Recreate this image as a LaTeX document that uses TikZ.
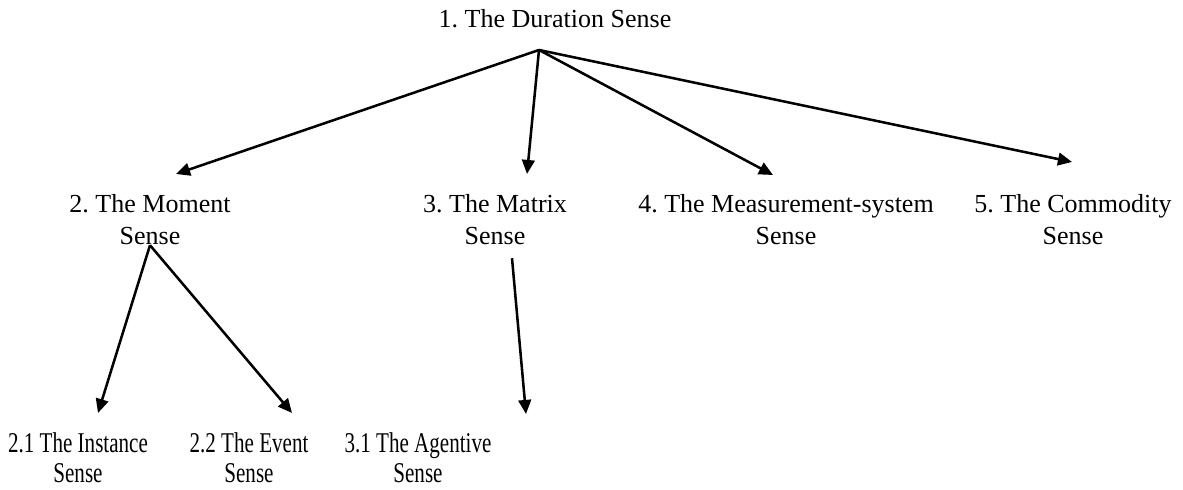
\documentclass[tikz,border=0pt]{standalone}
\usepackage{fontspec}
\setmainfont{Liberation Serif}
\usepackage{graphicx}
\usetikzlibrary{arrows.meta}
\newcommand{\narrow}[1]{\scalebox{0.81}[1.1]{#1}}
\frenchspacing

\begin{document}
\begin{tikzpicture}[x=0.025cm, y=-0.025cm,
    sense/.style={inner sep=0pt, anchor=north, align=center,
                  font=\fontsize{18.5pt}{23pt}\selectfont},
    subsense/.style={sense, font=\fontsize{18.5pt}{21.5pt}\selectfont},
    a/.style={-{Triangle[length=10pt, width=9pt]}, line width=1.8pt}
  ]
  \useasboundingbox (0,0) rectangle (1183,490);

  % top
  \node[sense] (n1) at (555,9) {1. The Duration Sense};
  \coordinate (d1) at ([shift={(-16,22)}]n1.south);

  % second row
  \node[sense] (n2) at (150,194) {2. The Moment\\ Sense};
  \node[sense] (n3) at (495,194) {3. The Matrix\\ Sense};
  \node[sense] (n4) at (786,194) {4. The Measurement-system\\ Sense};
  \node[sense] (n5) at (1073,194) {5. The Commodity\\ Sense};
  \draw[a] (d1) -- ([shift={(26,-20)}]n2.north);
  \draw[a] (d1) -- ([shift={(32,-20)}]n3.north);
  \draw[a] (d1) -- ([shift={(-13,-19)}]n4.north);
  \draw[a] (d1) -- ([shift={(-1,-32)}]n5.north);

  % third row
  \node[subsense] (n6) at (78,432) {\narrow{2.1 The Instance}\\ \narrow{Sense}};
  \node[subsense] (n7) at (249,432) {\narrow{2.2 The Event}\\ \narrow{Sense}};
  \node[subsense] (n8) at (418,432) {\narrow{3.1 The Agentive}\\ \narrow{Sense}};
  \draw[a] (n2.south) -- ([shift={(20,-19)}]n6.north);
  \draw[a] (n2.south) -- ([shift={(43,-19)}]n7.north);
  \draw[a] ([shift={(17,13)}]n3.south) -- ([shift={(108,-18)}]n8.north);
\end{tikzpicture}
\end{document}
